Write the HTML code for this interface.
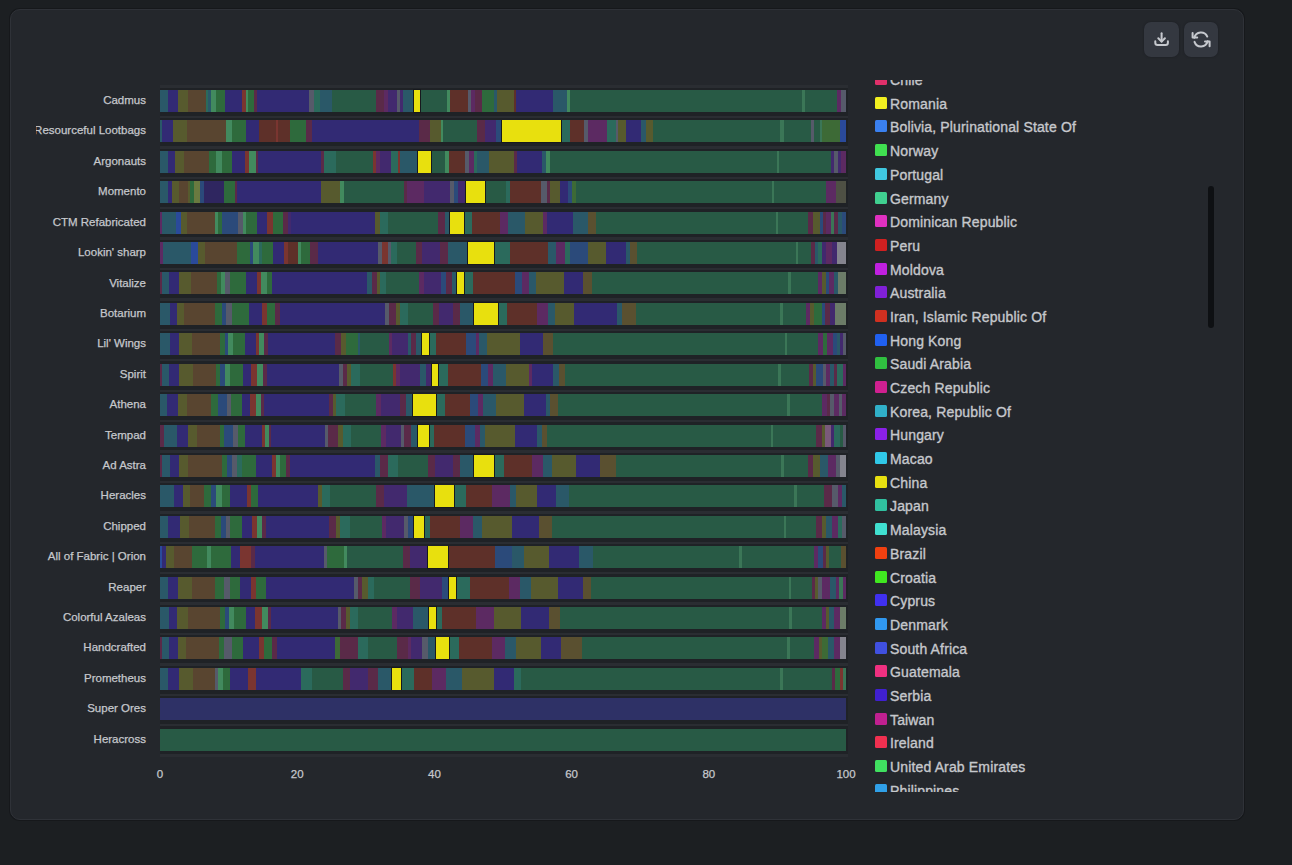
<!DOCTYPE html>
<html><head><meta charset="utf-8">
<style>
html,body{margin:0;padding:0;}
body{width:1292px;height:865px;background:#1c1f22;position:relative;overflow:hidden;font-family:"Liberation Sans",sans-serif;}
.card{position:absolute;box-sizing:border-box;left:10px;top:8.5px;width:1234px;height:811.5px;background:#24272c;border:1.5px solid #2f3238;border-radius:10px;box-shadow:0 0 0 1px #16181b;}
.btn{position:absolute;top:22px;width:35px;height:35px;border-radius:7px;background:#343840;box-shadow:0 0 2px #1a1c20;}
.ylab{position:absolute;right:1146px;font-size:11.5px;color:#c6c8cc;white-space:nowrap;line-height:14px;-webkit-text-stroke:0.25px #c6c8cc;}
.xlab{position:absolute;top:767px;font-size:11.5px;color:#c6c8cc;line-height:14px;width:40px;text-align:center;-webkit-text-stroke:0.25px #c6c8cc;}
.legend{position:absolute;left:870px;top:80px;width:320px;height:712px;overflow:hidden;}
.li{position:absolute;left:5px;height:20px;font-size:14px;letter-spacing:0.15px;color:#c6c8cc;white-space:nowrap;line-height:20px;-webkit-text-stroke:0.35px #c6c8cc;}
.sw{position:absolute;left:0;top:4px;width:12px;height:12px;border-radius:1.5px;}
.lt{position:absolute;left:15px;top:1px;}
.sb{position:absolute;left:1208px;top:186px;width:6px;height:142px;border-radius:3px;background:#0e1013;}
.ylclip{position:absolute;left:36px;top:80px;width:119px;height:680px;overflow:hidden;}
</style></head><body>
<div class="card"></div>

<div class="btn" style="left:1144px"></div>
<div class="btn" style="left:1184px;width:34px"></div>
<svg style="position:absolute;left:0;top:0" width="1292" height="70" viewBox="0 0 1292 70">
<g fill="none" stroke="#c6c9ce" stroke-width="2" stroke-linecap="round" stroke-linejoin="round">
<path d="M1161.6 33.3 V41.5"/><path d="M1158.3 38.3 L1161.6 41.6 L1164.9 38.3"/>
<path d="M1155.3 41.3 V42.8 Q1155.3 45.1 1157.6 45.1 H1165.6 Q1167.9 45.1 1167.9 42.8 V41.3"/>
<path d="M1207.25 36.58 A6.9 6.9 0 0 0 1194.33 37.71"/><path d="M1192.6 32.9 V37.6 H1197.2"/>
<path d="M1194.5 41.86 A6.9 6.9 0 0 0 1207.66 41.29"/><path d="M1209.6 46.3 V41.6 H1205"/>
</g></svg>
<svg style="position:absolute;left:0;top:0" width="1292" height="865" shape-rendering="crispEdges"><g>
<rect x="160.0" y="84.80" width="688.0" height="671.01" fill="#1f2226"/>
<rect x="160.0" y="85.40" width="688.0" height="2.4" fill="#2a2d32"/>
<rect x="160.0" y="115.81" width="688.0" height="2.4" fill="#2a2d32"/>
<rect x="160.0" y="146.22" width="688.0" height="2.4" fill="#2a2d32"/>
<rect x="160.0" y="176.63" width="688.0" height="2.4" fill="#2a2d32"/>
<rect x="160.0" y="207.04" width="688.0" height="2.4" fill="#2a2d32"/>
<rect x="160.0" y="237.45" width="688.0" height="2.4" fill="#2a2d32"/>
<rect x="160.0" y="267.86" width="688.0" height="2.4" fill="#2a2d32"/>
<rect x="160.0" y="298.27" width="688.0" height="2.4" fill="#2a2d32"/>
<rect x="160.0" y="328.68" width="688.0" height="2.4" fill="#2a2d32"/>
<rect x="160.0" y="359.09" width="688.0" height="2.4" fill="#2a2d32"/>
<rect x="160.0" y="389.50" width="688.0" height="2.4" fill="#2a2d32"/>
<rect x="160.0" y="419.91" width="688.0" height="2.4" fill="#2a2d32"/>
<rect x="160.0" y="450.32" width="688.0" height="2.4" fill="#2a2d32"/>
<rect x="160.0" y="480.73" width="688.0" height="2.4" fill="#2a2d32"/>
<rect x="160.0" y="511.14" width="688.0" height="2.4" fill="#2a2d32"/>
<rect x="160.0" y="541.55" width="688.0" height="2.4" fill="#2a2d32"/>
<rect x="160.0" y="571.96" width="688.0" height="2.4" fill="#2a2d32"/>
<rect x="160.0" y="602.37" width="688.0" height="2.4" fill="#2a2d32"/>
<rect x="160.0" y="632.78" width="688.0" height="2.4" fill="#2a2d32"/>
<rect x="160.0" y="663.19" width="688.0" height="2.4" fill="#2a2d32"/>
<rect x="160.0" y="693.60" width="688.0" height="2.4" fill="#2a2d32"/>
<rect x="160.0" y="724.01" width="688.0" height="2.4" fill="#2a2d32"/>
<rect x="160.0" y="754.41" width="688.0" height="2.4" fill="#2a2d32"/>
<rect x="160.0" y="90.00" width="8.0" height="22.0" fill="#2a5868"/>
<rect x="168" y="90.00" width="10" height="22.0" fill="#322a74"/>
<rect x="178" y="90.00" width="10" height="22.0" fill="#575a2e"/>
<rect x="188" y="90.00" width="18" height="22.0" fill="#594530"/>
<rect x="206" y="90.00" width="2" height="22.0" fill="#2b6a5c"/>
<rect x="208" y="90.00" width="3" height="22.0" fill="#2a5868"/>
<rect x="211" y="90.00" width="5" height="22.0" fill="#428a5e"/>
<rect x="216" y="90.00" width="9" height="22.0" fill="#2e6a3c"/>
<rect x="225" y="90.00" width="17" height="22.0" fill="#322a74"/>
<rect x="242" y="90.00" width="4" height="22.0" fill="#7a3530"/>
<rect x="246" y="90.00" width="2" height="22.0" fill="#428a5e"/>
<rect x="248" y="90.00" width="6" height="22.0" fill="#2e6a3c"/>
<rect x="254" y="90.00" width="3" height="22.0" fill="#5a2a48"/>
<rect x="257" y="90.00" width="52" height="22.0" fill="#322a74"/>
<rect x="309" y="90.00" width="5" height="22.0" fill="#565a6a"/>
<rect x="314" y="90.00" width="6" height="22.0" fill="#2b6a5c"/>
<rect x="320" y="90.00" width="12" height="22.0" fill="#2a5868"/>
<rect x="332" y="90.00" width="44" height="22.0" fill="#285a45"/>
<rect x="376" y="90.00" width="8" height="22.0" fill="#5a2a48"/>
<rect x="384" y="90.00" width="4" height="22.0" fill="#5c2a62"/>
<rect x="388" y="90.00" width="9" height="22.0" fill="#42296e"/>
<rect x="397" y="90.00" width="3" height="22.0" fill="#565a6a"/>
<rect x="400" y="90.00" width="3" height="22.0" fill="#42296e"/>
<rect x="403" y="90.00" width="11" height="22.0" fill="#2a5868"/>
<rect x="420" y="90.00" width="27" height="22.0" fill="#285a45"/>
<rect x="447" y="90.00" width="3" height="22.0" fill="#428a5e"/>
<rect x="450" y="90.00" width="18" height="22.0" fill="#5e3029"/>
<rect x="468" y="90.00" width="3" height="22.0" fill="#565a6a"/>
<rect x="471" y="90.00" width="4" height="22.0" fill="#5c2a62"/>
<rect x="475" y="90.00" width="7" height="22.0" fill="#5a2a48"/>
<rect x="482" y="90.00" width="12" height="22.0" fill="#2e6a3c"/>
<rect x="494" y="90.00" width="3" height="22.0" fill="#2a5868"/>
<rect x="497" y="90.00" width="17" height="22.0" fill="#575a2e"/>
<rect x="514" y="90.00" width="2" height="22.0" fill="#5e3029"/>
<rect x="516" y="90.00" width="37" height="22.0" fill="#322a74"/>
<rect x="553" y="90.00" width="14" height="22.0" fill="#2a5868"/>
<rect x="567" y="90.00" width="3" height="22.0" fill="#428a5e"/>
<rect x="570" y="90.00" width="232" height="22.0" fill="#285a45"/>
<rect x="802" y="90.00" width="3" height="22.0" fill="#3b7657"/>
<rect x="805" y="90.00" width="32" height="22.0" fill="#285a45"/>
<rect x="837" y="90.00" width="4" height="22.0" fill="#5c2a62"/>
<rect x="841" y="90.00" width="5" height="22.0" fill="#565a6a"/>
<rect x="160.0" y="120.41" width="2.0" height="22.0" fill="#2a5868"/>
<rect x="162" y="120.41" width="11" height="22.0" fill="#322a74"/>
<rect x="173" y="120.41" width="14" height="22.0" fill="#575a2e"/>
<rect x="187" y="120.41" width="39" height="22.0" fill="#594530"/>
<rect x="226" y="120.41" width="6" height="22.0" fill="#428a5e"/>
<rect x="232" y="120.41" width="14" height="22.0" fill="#2e6a3c"/>
<rect x="246" y="120.41" width="13" height="22.0" fill="#322a74"/>
<rect x="259" y="120.41" width="17" height="22.0" fill="#5e3029"/>
<rect x="276" y="120.41" width="2" height="22.0" fill="#7a3530"/>
<rect x="278" y="120.41" width="12" height="22.0" fill="#5e3029"/>
<rect x="290" y="120.41" width="16" height="22.0" fill="#2e6a3c"/>
<rect x="306" y="120.41" width="6" height="22.0" fill="#5a2a48"/>
<rect x="312" y="120.41" width="107" height="22.0" fill="#322a74"/>
<rect x="419" y="120.41" width="11" height="22.0" fill="#5a2a48"/>
<rect x="430" y="120.41" width="11" height="22.0" fill="#575a2e"/>
<rect x="441" y="120.41" width="2" height="22.0" fill="#428a5e"/>
<rect x="443" y="120.41" width="34" height="22.0" fill="#285a45"/>
<rect x="477" y="120.41" width="8" height="22.0" fill="#5a2a48"/>
<rect x="485" y="120.41" width="11" height="22.0" fill="#42296e"/>
<rect x="496" y="120.41" width="6" height="22.0" fill="#2b4a7a"/>
<rect x="561" y="120.41" width="9" height="22.0" fill="#2b6a5c"/>
<rect x="570" y="120.41" width="14" height="22.0" fill="#5e3029"/>
<rect x="584" y="120.41" width="4" height="22.0" fill="#565a6a"/>
<rect x="588" y="120.41" width="19" height="22.0" fill="#5c2a62"/>
<rect x="607" y="120.41" width="9" height="22.0" fill="#2b6a5c"/>
<rect x="616" y="120.41" width="2" height="22.0" fill="#565a6a"/>
<rect x="618" y="120.41" width="8" height="22.0" fill="#575a2e"/>
<rect x="626" y="120.41" width="15" height="22.0" fill="#322a74"/>
<rect x="641" y="120.41" width="5" height="22.0" fill="#2a5868"/>
<rect x="646" y="120.41" width="7" height="22.0" fill="#575a2e"/>
<rect x="653" y="120.41" width="127" height="22.0" fill="#285a45"/>
<rect x="780" y="120.41" width="4" height="22.0" fill="#3b7657"/>
<rect x="784" y="120.41" width="27" height="22.0" fill="#285a45"/>
<rect x="811" y="120.41" width="3" height="22.0" fill="#565a6a"/>
<rect x="814" y="120.41" width="6" height="22.0" fill="#285a45"/>
<rect x="820" y="120.41" width="2" height="22.0" fill="#3b7657"/>
<rect x="822" y="120.41" width="18" height="22.0" fill="#3d6a36"/>
<rect x="840" y="120.41" width="6" height="22.0" fill="#2a4a9a"/>
<rect x="160.0" y="150.82" width="8.0" height="22.0" fill="#2a5868"/>
<rect x="168" y="150.82" width="7" height="22.0" fill="#322a74"/>
<rect x="175" y="150.82" width="9" height="22.0" fill="#575a2e"/>
<rect x="184" y="150.82" width="25" height="22.0" fill="#594530"/>
<rect x="209" y="150.82" width="7" height="22.0" fill="#2e6a3c"/>
<rect x="216" y="150.82" width="6" height="22.0" fill="#428a5e"/>
<rect x="222" y="150.82" width="10" height="22.0" fill="#2e6a3c"/>
<rect x="232" y="150.82" width="13" height="22.0" fill="#322a74"/>
<rect x="245" y="150.82" width="4" height="22.0" fill="#7a3530"/>
<rect x="249" y="150.82" width="7" height="22.0" fill="#428a5e"/>
<rect x="256" y="150.82" width="2" height="22.0" fill="#5a2a48"/>
<rect x="258" y="150.82" width="63" height="22.0" fill="#322a74"/>
<rect x="321" y="150.82" width="3" height="22.0" fill="#5a2a48"/>
<rect x="324" y="150.82" width="12" height="22.0" fill="#2b6a5c"/>
<rect x="336" y="150.82" width="37" height="22.0" fill="#285a45"/>
<rect x="373" y="150.82" width="3" height="22.0" fill="#7a3530"/>
<rect x="376" y="150.82" width="4" height="22.0" fill="#5c2a62"/>
<rect x="380" y="150.82" width="11" height="22.0" fill="#42296e"/>
<rect x="391" y="150.82" width="7" height="22.0" fill="#2b6a5c"/>
<rect x="398" y="150.82" width="2" height="22.0" fill="#7a3530"/>
<rect x="400" y="150.82" width="18" height="22.0" fill="#2a5868"/>
<rect x="431" y="150.82" width="14" height="22.0" fill="#285a45"/>
<rect x="445" y="150.82" width="4" height="22.0" fill="#428a5e"/>
<rect x="449" y="150.82" width="16" height="22.0" fill="#5e3029"/>
<rect x="465" y="150.82" width="4" height="22.0" fill="#565a6a"/>
<rect x="469" y="150.82" width="5" height="22.0" fill="#5c2a62"/>
<rect x="474" y="150.82" width="3" height="22.0" fill="#2b6a5c"/>
<rect x="477" y="150.82" width="12" height="22.0" fill="#2a5868"/>
<rect x="489" y="150.82" width="25" height="22.0" fill="#575a2e"/>
<rect x="514" y="150.82" width="3" height="22.0" fill="#5a2a48"/>
<rect x="517" y="150.82" width="25" height="22.0" fill="#322a74"/>
<rect x="542" y="150.82" width="4" height="22.0" fill="#2a5868"/>
<rect x="546" y="150.82" width="4" height="22.0" fill="#428a5e"/>
<rect x="550" y="150.82" width="227" height="22.0" fill="#285a45"/>
<rect x="777" y="150.82" width="2" height="22.0" fill="#3b7657"/>
<rect x="779" y="150.82" width="52" height="22.0" fill="#285a45"/>
<rect x="831" y="150.82" width="3" height="22.0" fill="#42296e"/>
<rect x="834" y="150.82" width="4" height="22.0" fill="#565a6a"/>
<rect x="838" y="150.82" width="3" height="22.0" fill="#42296e"/>
<rect x="841" y="150.82" width="5" height="22.0" fill="#5c2a62"/>
<rect x="160.0" y="181.23" width="8.0" height="22.0" fill="#2a5868"/>
<rect x="168" y="181.23" width="4" height="22.0" fill="#322a74"/>
<rect x="172" y="181.23" width="7" height="22.0" fill="#575a2e"/>
<rect x="179" y="181.23" width="9" height="22.0" fill="#594530"/>
<rect x="188" y="181.23" width="2" height="22.0" fill="#575a2e"/>
<rect x="190" y="181.23" width="4" height="22.0" fill="#2e6a3c"/>
<rect x="194" y="181.23" width="6" height="22.0" fill="#6a7a40"/>
<rect x="200" y="181.23" width="4" height="22.0" fill="#2b4a7a"/>
<rect x="204" y="181.23" width="20" height="22.0" fill="#2f2660"/>
<rect x="224" y="181.23" width="11" height="22.0" fill="#2e6a3c"/>
<rect x="235" y="181.23" width="2" height="22.0" fill="#5a2a48"/>
<rect x="237" y="181.23" width="84" height="22.0" fill="#322a74"/>
<rect x="321" y="181.23" width="19" height="22.0" fill="#575a2e"/>
<rect x="340" y="181.23" width="4" height="22.0" fill="#428a5e"/>
<rect x="344" y="181.23" width="60" height="22.0" fill="#285a45"/>
<rect x="404" y="181.23" width="3" height="22.0" fill="#5a2a48"/>
<rect x="407" y="181.23" width="17" height="22.0" fill="#5c2a62"/>
<rect x="424" y="181.23" width="26" height="22.0" fill="#42296e"/>
<rect x="450" y="181.23" width="4" height="22.0" fill="#565a6a"/>
<rect x="454" y="181.23" width="4" height="22.0" fill="#2b4a7a"/>
<rect x="458" y="181.23" width="8" height="22.0" fill="#42296e"/>
<rect x="485" y="181.23" width="21" height="22.0" fill="#285a45"/>
<rect x="506" y="181.23" width="4" height="22.0" fill="#2b6a5c"/>
<rect x="510" y="181.23" width="31" height="22.0" fill="#5e3029"/>
<rect x="541" y="181.23" width="6" height="22.0" fill="#565a6a"/>
<rect x="547" y="181.23" width="3" height="22.0" fill="#5a2a48"/>
<rect x="550" y="181.23" width="10" height="22.0" fill="#575a2e"/>
<rect x="560" y="181.23" width="8" height="22.0" fill="#322a74"/>
<rect x="568" y="181.23" width="4" height="22.0" fill="#2b4a7a"/>
<rect x="572" y="181.23" width="4" height="22.0" fill="#3d6a36"/>
<rect x="576" y="181.23" width="196" height="22.0" fill="#285a45"/>
<rect x="772" y="181.23" width="2" height="22.0" fill="#3b7657"/>
<rect x="774" y="181.23" width="52" height="22.0" fill="#285a45"/>
<rect x="826" y="181.23" width="10" height="22.0" fill="#5c2a62"/>
<rect x="836" y="181.23" width="10" height="22.0" fill="#4e5044"/>
<rect x="160.0" y="211.64" width="2.0" height="22.0" fill="#5c2a62"/>
<rect x="162" y="211.64" width="14" height="22.0" fill="#2a5868"/>
<rect x="176" y="211.64" width="5" height="22.0" fill="#2a4a9a"/>
<rect x="181" y="211.64" width="6" height="22.0" fill="#575a2e"/>
<rect x="187" y="211.64" width="28" height="22.0" fill="#594530"/>
<rect x="215" y="211.64" width="3" height="22.0" fill="#428a5e"/>
<rect x="218" y="211.64" width="4" height="22.0" fill="#2e6a3c"/>
<rect x="222" y="211.64" width="16" height="22.0" fill="#2b4a7a"/>
<rect x="238" y="211.64" width="5" height="22.0" fill="#565a6a"/>
<rect x="243" y="211.64" width="3" height="22.0" fill="#428a5e"/>
<rect x="246" y="211.64" width="11" height="22.0" fill="#2e6a3c"/>
<rect x="257" y="211.64" width="10" height="22.0" fill="#322a74"/>
<rect x="267" y="211.64" width="6" height="22.0" fill="#7a3530"/>
<rect x="273" y="211.64" width="10" height="22.0" fill="#2e6a3c"/>
<rect x="283" y="211.64" width="5" height="22.0" fill="#5a2a48"/>
<rect x="288" y="211.64" width="3" height="22.0" fill="#42296e"/>
<rect x="291" y="211.64" width="84" height="22.0" fill="#322a74"/>
<rect x="375" y="211.64" width="5" height="22.0" fill="#575a2e"/>
<rect x="380" y="211.64" width="8" height="22.0" fill="#2b6a5c"/>
<rect x="388" y="211.64" width="50" height="22.0" fill="#285a45"/>
<rect x="438" y="211.64" width="7" height="22.0" fill="#5a2a48"/>
<rect x="445" y="211.64" width="5" height="22.0" fill="#2a5868"/>
<rect x="464" y="211.64" width="8" height="22.0" fill="#2b6a5c"/>
<rect x="472" y="211.64" width="28" height="22.0" fill="#5e3029"/>
<rect x="500" y="211.64" width="8" height="22.0" fill="#5c2a62"/>
<rect x="508" y="211.64" width="17" height="22.0" fill="#2a5868"/>
<rect x="525" y="211.64" width="18" height="22.0" fill="#575a2e"/>
<rect x="543" y="211.64" width="4" height="22.0" fill="#5c2a62"/>
<rect x="547" y="211.64" width="26" height="22.0" fill="#322a74"/>
<rect x="573" y="211.64" width="15" height="22.0" fill="#2a5868"/>
<rect x="588" y="211.64" width="8" height="22.0" fill="#5a5030"/>
<rect x="596" y="211.64" width="180" height="22.0" fill="#285a45"/>
<rect x="776" y="211.64" width="2" height="22.0" fill="#3b7657"/>
<rect x="778" y="211.64" width="30" height="22.0" fill="#285a45"/>
<rect x="808" y="211.64" width="5" height="22.0" fill="#5a2a48"/>
<rect x="813" y="211.64" width="7" height="22.0" fill="#575a2e"/>
<rect x="820" y="211.64" width="3" height="22.0" fill="#2b4a7a"/>
<rect x="823" y="211.64" width="3" height="22.0" fill="#5a2a48"/>
<rect x="826" y="211.64" width="5" height="22.0" fill="#5c2a62"/>
<rect x="831" y="211.64" width="3" height="22.0" fill="#3b7657"/>
<rect x="834" y="211.64" width="4" height="22.0" fill="#5a2a48"/>
<rect x="838" y="211.64" width="4" height="22.0" fill="#2a5868"/>
<rect x="842" y="211.64" width="4" height="22.0" fill="#2b4a7a"/>
<rect x="160.0" y="242.05" width="3.0" height="22.0" fill="#5c2a62"/>
<rect x="163" y="242.05" width="28" height="22.0" fill="#2a5868"/>
<rect x="191" y="242.05" width="7" height="22.0" fill="#2a4a9a"/>
<rect x="198" y="242.05" width="7" height="22.0" fill="#575a2e"/>
<rect x="205" y="242.05" width="32" height="22.0" fill="#594530"/>
<rect x="237" y="242.05" width="13" height="22.0" fill="#2e6a3c"/>
<rect x="250" y="242.05" width="3" height="22.0" fill="#2b4a7a"/>
<rect x="253" y="242.05" width="6" height="22.0" fill="#428a5e"/>
<rect x="259" y="242.05" width="3" height="22.0" fill="#2b6a5c"/>
<rect x="262" y="242.05" width="11" height="22.0" fill="#2e6a3c"/>
<rect x="273" y="242.05" width="11" height="22.0" fill="#322a74"/>
<rect x="284" y="242.05" width="4" height="22.0" fill="#7a3530"/>
<rect x="288" y="242.05" width="10" height="22.0" fill="#5e3029"/>
<rect x="298" y="242.05" width="3" height="22.0" fill="#428a5e"/>
<rect x="301" y="242.05" width="9" height="22.0" fill="#2e6a3c"/>
<rect x="310" y="242.05" width="8" height="22.0" fill="#5a2a48"/>
<rect x="318" y="242.05" width="60" height="22.0" fill="#322a74"/>
<rect x="378" y="242.05" width="4" height="22.0" fill="#565a6a"/>
<rect x="382" y="242.05" width="6" height="22.0" fill="#7a3530"/>
<rect x="388" y="242.05" width="3" height="22.0" fill="#565a6a"/>
<rect x="391" y="242.05" width="6" height="22.0" fill="#2b6a5c"/>
<rect x="397" y="242.05" width="19" height="22.0" fill="#285a45"/>
<rect x="416" y="242.05" width="6" height="22.0" fill="#5a2a48"/>
<rect x="422" y="242.05" width="18" height="22.0" fill="#42296e"/>
<rect x="440" y="242.05" width="8" height="22.0" fill="#5a2a48"/>
<rect x="448" y="242.05" width="20" height="22.0" fill="#2a5868"/>
<rect x="494" y="242.05" width="16" height="22.0" fill="#2b6a5c"/>
<rect x="510" y="242.05" width="38" height="22.0" fill="#5e3029"/>
<rect x="548" y="242.05" width="8" height="22.0" fill="#2a5868"/>
<rect x="556" y="242.05" width="9" height="22.0" fill="#5c2a62"/>
<rect x="565" y="242.05" width="5" height="22.0" fill="#2b6a5c"/>
<rect x="570" y="242.05" width="18" height="22.0" fill="#2b4a7a"/>
<rect x="588" y="242.05" width="18" height="22.0" fill="#575a2e"/>
<rect x="606" y="242.05" width="20" height="22.0" fill="#322a74"/>
<rect x="626" y="242.05" width="4" height="22.0" fill="#2a5868"/>
<rect x="630" y="242.05" width="7" height="22.0" fill="#5a5030"/>
<rect x="637" y="242.05" width="159" height="22.0" fill="#285a45"/>
<rect x="796" y="242.05" width="2" height="22.0" fill="#3b7657"/>
<rect x="798" y="242.05" width="13" height="22.0" fill="#285a45"/>
<rect x="811" y="242.05" width="4" height="22.0" fill="#5a2a48"/>
<rect x="815" y="242.05" width="3" height="22.0" fill="#2a5868"/>
<rect x="818" y="242.05" width="4" height="22.0" fill="#2b6a5c"/>
<rect x="822" y="242.05" width="4" height="22.0" fill="#42296e"/>
<rect x="826" y="242.05" width="6" height="22.0" fill="#5c2a62"/>
<rect x="832" y="242.05" width="5" height="22.0" fill="#42296e"/>
<rect x="837" y="242.05" width="9" height="22.0" fill="#84848e"/>
<rect x="160.0" y="272.46" width="2.0" height="22.0" fill="#5a2a48"/>
<rect x="162" y="272.46" width="7" height="22.0" fill="#2a5868"/>
<rect x="169" y="272.46" width="10" height="22.0" fill="#322a74"/>
<rect x="179" y="272.46" width="12" height="22.0" fill="#575a2e"/>
<rect x="191" y="272.46" width="26" height="22.0" fill="#594530"/>
<rect x="217" y="272.46" width="4" height="22.0" fill="#2e6a3c"/>
<rect x="221" y="272.46" width="4" height="22.0" fill="#428a5e"/>
<rect x="225" y="272.46" width="5" height="22.0" fill="#565a6a"/>
<rect x="230" y="272.46" width="16" height="22.0" fill="#2e6a3c"/>
<rect x="246" y="272.46" width="11" height="22.0" fill="#322a74"/>
<rect x="257" y="272.46" width="4" height="22.0" fill="#7a3530"/>
<rect x="261" y="272.46" width="6" height="22.0" fill="#428a5e"/>
<rect x="267" y="272.46" width="5" height="22.0" fill="#2e6a3c"/>
<rect x="272" y="272.46" width="95" height="22.0" fill="#322a74"/>
<rect x="367" y="272.46" width="5" height="22.0" fill="#2a5868"/>
<rect x="372" y="272.46" width="5" height="22.0" fill="#5a2a48"/>
<rect x="377" y="272.46" width="3" height="22.0" fill="#575a2e"/>
<rect x="380" y="272.46" width="6" height="22.0" fill="#2b6a5c"/>
<rect x="386" y="272.46" width="33" height="22.0" fill="#285a45"/>
<rect x="419" y="272.46" width="5" height="22.0" fill="#5c2a62"/>
<rect x="424" y="272.46" width="17" height="22.0" fill="#42296e"/>
<rect x="441" y="272.46" width="5" height="22.0" fill="#2b4a7a"/>
<rect x="446" y="272.46" width="6" height="22.0" fill="#5a2a48"/>
<rect x="452" y="272.46" width="5" height="22.0" fill="#2a5868"/>
<rect x="464" y="272.46" width="9" height="22.0" fill="#2b6a5c"/>
<rect x="473" y="272.46" width="42" height="22.0" fill="#5e3029"/>
<rect x="515" y="272.46" width="7" height="22.0" fill="#2b4a7a"/>
<rect x="522" y="272.46" width="7" height="22.0" fill="#5c2a62"/>
<rect x="529" y="272.46" width="7" height="22.0" fill="#2a5868"/>
<rect x="536" y="272.46" width="28" height="22.0" fill="#575a2e"/>
<rect x="564" y="272.46" width="19" height="22.0" fill="#322a74"/>
<rect x="583" y="272.46" width="9" height="22.0" fill="#5a5030"/>
<rect x="592" y="272.46" width="196" height="22.0" fill="#285a45"/>
<rect x="788" y="272.46" width="3" height="22.0" fill="#3b7657"/>
<rect x="791" y="272.46" width="27" height="22.0" fill="#285a45"/>
<rect x="818" y="272.46" width="4" height="22.0" fill="#5c2a62"/>
<rect x="822" y="272.46" width="4" height="22.0" fill="#575a2e"/>
<rect x="826" y="272.46" width="3" height="22.0" fill="#2b4a7a"/>
<rect x="829" y="272.46" width="5" height="22.0" fill="#5c2a62"/>
<rect x="834" y="272.46" width="4" height="22.0" fill="#2a5868"/>
<rect x="838" y="272.46" width="8" height="22.0" fill="#6c7c68"/>
<rect x="160.0" y="302.87" width="10.0" height="22.0" fill="#2a5868"/>
<rect x="170" y="302.87" width="7" height="22.0" fill="#322a74"/>
<rect x="177" y="302.87" width="7" height="22.0" fill="#575a2e"/>
<rect x="184" y="302.87" width="31" height="22.0" fill="#594530"/>
<rect x="215" y="302.87" width="7" height="22.0" fill="#2e6a3c"/>
<rect x="222" y="302.87" width="4" height="22.0" fill="#2b4a7a"/>
<rect x="226" y="302.87" width="6" height="22.0" fill="#565a6a"/>
<rect x="232" y="302.87" width="17" height="22.0" fill="#2e6a3c"/>
<rect x="249" y="302.87" width="13" height="22.0" fill="#322a74"/>
<rect x="262" y="302.87" width="5" height="22.0" fill="#7a3530"/>
<rect x="267" y="302.87" width="8" height="22.0" fill="#2e6a3c"/>
<rect x="275" y="302.87" width="5" height="22.0" fill="#5a2a48"/>
<rect x="280" y="302.87" width="105" height="22.0" fill="#322a74"/>
<rect x="385" y="302.87" width="4" height="22.0" fill="#565a6a"/>
<rect x="389" y="302.87" width="7" height="22.0" fill="#5a2a48"/>
<rect x="396" y="302.87" width="4" height="22.0" fill="#575a2e"/>
<rect x="400" y="302.87" width="8" height="22.0" fill="#2b6a5c"/>
<rect x="408" y="302.87" width="25" height="22.0" fill="#285a45"/>
<rect x="433" y="302.87" width="6" height="22.0" fill="#5a2a48"/>
<rect x="439" y="302.87" width="14" height="22.0" fill="#42296e"/>
<rect x="453" y="302.87" width="7" height="22.0" fill="#5a2a48"/>
<rect x="460" y="302.87" width="14" height="22.0" fill="#2a5868"/>
<rect x="498" y="302.87" width="9" height="22.0" fill="#2b6a5c"/>
<rect x="507" y="302.87" width="30" height="22.0" fill="#5e3029"/>
<rect x="537" y="302.87" width="11" height="22.0" fill="#5c2a62"/>
<rect x="548" y="302.87" width="7" height="22.0" fill="#2a5868"/>
<rect x="555" y="302.87" width="19" height="22.0" fill="#575a2e"/>
<rect x="574" y="302.87" width="43" height="22.0" fill="#322a74"/>
<rect x="617" y="302.87" width="5" height="22.0" fill="#2a5868"/>
<rect x="622" y="302.87" width="14" height="22.0" fill="#5a5030"/>
<rect x="636" y="302.87" width="144" height="22.0" fill="#285a45"/>
<rect x="780" y="302.87" width="3" height="22.0" fill="#3b7657"/>
<rect x="783" y="302.87" width="23" height="22.0" fill="#285a45"/>
<rect x="806" y="302.87" width="4" height="22.0" fill="#5c2a62"/>
<rect x="810" y="302.87" width="4" height="22.0" fill="#575a2e"/>
<rect x="814" y="302.87" width="8" height="22.0" fill="#2e6a3c"/>
<rect x="822" y="302.87" width="3" height="22.0" fill="#2b4a7a"/>
<rect x="825" y="302.87" width="5" height="22.0" fill="#5a2a48"/>
<rect x="830" y="302.87" width="5" height="22.0" fill="#42296e"/>
<rect x="835" y="302.87" width="11" height="22.0" fill="#6c7c68"/>
<rect x="160.0" y="333.28" width="10.0" height="22.0" fill="#2a5868"/>
<rect x="170" y="333.28" width="9" height="22.0" fill="#322a74"/>
<rect x="179" y="333.28" width="13" height="22.0" fill="#575a2e"/>
<rect x="192" y="333.28" width="28" height="22.0" fill="#594530"/>
<rect x="220" y="333.28" width="5" height="22.0" fill="#2e6a3c"/>
<rect x="225" y="333.28" width="3" height="22.0" fill="#2b4a7a"/>
<rect x="228" y="333.28" width="5" height="22.0" fill="#428a5e"/>
<rect x="233" y="333.28" width="12" height="22.0" fill="#2e6a3c"/>
<rect x="245" y="333.28" width="11" height="22.0" fill="#322a74"/>
<rect x="256" y="333.28" width="3" height="22.0" fill="#7a3530"/>
<rect x="259" y="333.28" width="5" height="22.0" fill="#428a5e"/>
<rect x="264" y="333.28" width="4" height="22.0" fill="#5a2a48"/>
<rect x="268" y="333.28" width="67" height="22.0" fill="#322a74"/>
<rect x="335" y="333.28" width="6" height="22.0" fill="#5a2a48"/>
<rect x="341" y="333.28" width="5" height="22.0" fill="#575a2e"/>
<rect x="346" y="333.28" width="12" height="22.0" fill="#2e6a3c"/>
<rect x="358" y="333.28" width="2" height="22.0" fill="#2a5868"/>
<rect x="360" y="333.28" width="29" height="22.0" fill="#285a45"/>
<rect x="389" y="333.28" width="3" height="22.0" fill="#5c2a62"/>
<rect x="392" y="333.28" width="16" height="22.0" fill="#42296e"/>
<rect x="408" y="333.28" width="3" height="22.0" fill="#2a5868"/>
<rect x="411" y="333.28" width="5" height="22.0" fill="#5a2a48"/>
<rect x="416" y="333.28" width="6" height="22.0" fill="#2a5868"/>
<rect x="429" y="333.28" width="7" height="22.0" fill="#2b6a5c"/>
<rect x="436" y="333.28" width="30" height="22.0" fill="#5e3029"/>
<rect x="466" y="333.28" width="10" height="22.0" fill="#2b4a7a"/>
<rect x="476" y="333.28" width="3" height="22.0" fill="#5c2a62"/>
<rect x="479" y="333.28" width="8" height="22.0" fill="#2a5868"/>
<rect x="487" y="333.28" width="33" height="22.0" fill="#575a2e"/>
<rect x="520" y="333.28" width="23" height="22.0" fill="#322a74"/>
<rect x="543" y="333.28" width="10" height="22.0" fill="#5a5030"/>
<rect x="553" y="333.28" width="232" height="22.0" fill="#285a45"/>
<rect x="785" y="333.28" width="2" height="22.0" fill="#3b7657"/>
<rect x="787" y="333.28" width="31" height="22.0" fill="#285a45"/>
<rect x="818" y="333.28" width="5" height="22.0" fill="#5c2a62"/>
<rect x="823" y="333.28" width="4" height="22.0" fill="#2e6a3c"/>
<rect x="827" y="333.28" width="6" height="22.0" fill="#5c2a62"/>
<rect x="833" y="333.28" width="4" height="22.0" fill="#2b4a7a"/>
<rect x="837" y="333.28" width="3" height="22.0" fill="#2a5868"/>
<rect x="840" y="333.28" width="3" height="22.0" fill="#42296e"/>
<rect x="843" y="333.28" width="3" height="22.0" fill="#565a6a"/>
<rect x="160.0" y="363.69" width="2.0" height="22.0" fill="#5a2a48"/>
<rect x="162" y="363.69" width="7" height="22.0" fill="#2a5868"/>
<rect x="169" y="363.69" width="10" height="22.0" fill="#322a74"/>
<rect x="179" y="363.69" width="14" height="22.0" fill="#575a2e"/>
<rect x="193" y="363.69" width="23" height="22.0" fill="#594530"/>
<rect x="216" y="363.69" width="4" height="22.0" fill="#2e6a3c"/>
<rect x="220" y="363.69" width="5" height="22.0" fill="#2b4a7a"/>
<rect x="225" y="363.69" width="5" height="22.0" fill="#428a5e"/>
<rect x="230" y="363.69" width="13" height="22.0" fill="#2e6a3c"/>
<rect x="243" y="363.69" width="8" height="22.0" fill="#322a74"/>
<rect x="251" y="363.69" width="6" height="22.0" fill="#7a3530"/>
<rect x="257" y="363.69" width="6" height="22.0" fill="#428a5e"/>
<rect x="263" y="363.69" width="4" height="22.0" fill="#5a2a48"/>
<rect x="267" y="363.69" width="72" height="22.0" fill="#322a74"/>
<rect x="339" y="363.69" width="4" height="22.0" fill="#565a6a"/>
<rect x="343" y="363.69" width="4" height="22.0" fill="#5a2a48"/>
<rect x="347" y="363.69" width="4" height="22.0" fill="#575a2e"/>
<rect x="351" y="363.69" width="9" height="22.0" fill="#2b6a5c"/>
<rect x="360" y="363.69" width="33" height="22.0" fill="#285a45"/>
<rect x="393" y="363.69" width="3" height="22.0" fill="#7a3530"/>
<rect x="396" y="363.69" width="4" height="22.0" fill="#5c2a62"/>
<rect x="400" y="363.69" width="20" height="22.0" fill="#42296e"/>
<rect x="420" y="363.69" width="6" height="22.0" fill="#2a5868"/>
<rect x="426" y="363.69" width="6" height="22.0" fill="#42296e"/>
<rect x="438" y="363.69" width="10" height="22.0" fill="#2b6a5c"/>
<rect x="448" y="363.69" width="33" height="22.0" fill="#5e3029"/>
<rect x="481" y="363.69" width="7" height="22.0" fill="#2b4a7a"/>
<rect x="488" y="363.69" width="5" height="22.0" fill="#5c2a62"/>
<rect x="493" y="363.69" width="13" height="22.0" fill="#2a5868"/>
<rect x="506" y="363.69" width="23" height="22.0" fill="#575a2e"/>
<rect x="529" y="363.69" width="3" height="22.0" fill="#5c2a62"/>
<rect x="532" y="363.69" width="21" height="22.0" fill="#322a74"/>
<rect x="553" y="363.69" width="6" height="22.0" fill="#2a5868"/>
<rect x="559" y="363.69" width="6" height="22.0" fill="#5a5030"/>
<rect x="565" y="363.69" width="213" height="22.0" fill="#285a45"/>
<rect x="778" y="363.69" width="3" height="22.0" fill="#3b7657"/>
<rect x="781" y="363.69" width="28" height="22.0" fill="#285a45"/>
<rect x="809" y="363.69" width="4" height="22.0" fill="#5a2a48"/>
<rect x="813" y="363.69" width="3" height="22.0" fill="#575a2e"/>
<rect x="816" y="363.69" width="7" height="22.0" fill="#2b4a7a"/>
<rect x="823" y="363.69" width="3" height="22.0" fill="#565a6a"/>
<rect x="826" y="363.69" width="4" height="22.0" fill="#5c2a62"/>
<rect x="830" y="363.69" width="4" height="22.0" fill="#2a5868"/>
<rect x="834" y="363.69" width="3" height="22.0" fill="#5a2a48"/>
<rect x="837" y="363.69" width="6" height="22.0" fill="#2b6a5c"/>
<rect x="843" y="363.69" width="3" height="22.0" fill="#5c2a62"/>
<rect x="160.0" y="394.10" width="7.0" height="22.0" fill="#2a5868"/>
<rect x="167" y="394.10" width="11" height="22.0" fill="#322a74"/>
<rect x="178" y="394.10" width="9" height="22.0" fill="#575a2e"/>
<rect x="187" y="394.10" width="24" height="22.0" fill="#594530"/>
<rect x="211" y="394.10" width="7" height="22.0" fill="#2e6a3c"/>
<rect x="218" y="394.10" width="9" height="22.0" fill="#2b4a7a"/>
<rect x="227" y="394.10" width="4" height="22.0" fill="#565a6a"/>
<rect x="231" y="394.10" width="11" height="22.0" fill="#2e6a3c"/>
<rect x="242" y="394.10" width="8" height="22.0" fill="#322a74"/>
<rect x="250" y="394.10" width="6" height="22.0" fill="#7a3530"/>
<rect x="256" y="394.10" width="5" height="22.0" fill="#428a5e"/>
<rect x="261" y="394.10" width="3" height="22.0" fill="#5a2a48"/>
<rect x="264" y="394.10" width="65" height="22.0" fill="#322a74"/>
<rect x="329" y="394.10" width="4" height="22.0" fill="#5a2a48"/>
<rect x="333" y="394.10" width="3" height="22.0" fill="#575a2e"/>
<rect x="336" y="394.10" width="9" height="22.0" fill="#2b6a5c"/>
<rect x="345" y="394.10" width="31" height="22.0" fill="#285a45"/>
<rect x="376" y="394.10" width="5" height="22.0" fill="#5c2a62"/>
<rect x="381" y="394.10" width="19" height="22.0" fill="#42296e"/>
<rect x="400" y="394.10" width="6" height="22.0" fill="#5a2a48"/>
<rect x="406" y="394.10" width="7" height="22.0" fill="#2a5868"/>
<rect x="436" y="394.10" width="9" height="22.0" fill="#2b6a5c"/>
<rect x="445" y="394.10" width="25" height="22.0" fill="#5e3029"/>
<rect x="470" y="394.10" width="8" height="22.0" fill="#2b4a7a"/>
<rect x="478" y="394.10" width="5" height="22.0" fill="#5c2a62"/>
<rect x="483" y="394.10" width="13" height="22.0" fill="#2a5868"/>
<rect x="496" y="394.10" width="28" height="22.0" fill="#575a2e"/>
<rect x="524" y="394.10" width="22" height="22.0" fill="#322a74"/>
<rect x="546" y="394.10" width="4" height="22.0" fill="#2a5868"/>
<rect x="550" y="394.10" width="8" height="22.0" fill="#5a5030"/>
<rect x="558" y="394.10" width="229" height="22.0" fill="#285a45"/>
<rect x="787" y="394.10" width="3" height="22.0" fill="#3b7657"/>
<rect x="790" y="394.10" width="32" height="22.0" fill="#285a45"/>
<rect x="822" y="394.10" width="5" height="22.0" fill="#5c2a62"/>
<rect x="827" y="394.10" width="3" height="22.0" fill="#5a2a48"/>
<rect x="830" y="394.10" width="4" height="22.0" fill="#565a6a"/>
<rect x="834" y="394.10" width="5" height="22.0" fill="#5c2a62"/>
<rect x="839" y="394.10" width="3" height="22.0" fill="#565a6a"/>
<rect x="842" y="394.10" width="4" height="22.0" fill="#5c2a62"/>
<rect x="160.0" y="424.51" width="4.0" height="22.0" fill="#5a2a48"/>
<rect x="164" y="424.51" width="13" height="22.0" fill="#2a5868"/>
<rect x="177" y="424.51" width="11" height="22.0" fill="#322a74"/>
<rect x="188" y="424.51" width="9" height="22.0" fill="#575a2e"/>
<rect x="197" y="424.51" width="23" height="22.0" fill="#594530"/>
<rect x="220" y="424.51" width="4" height="22.0" fill="#2e6a3c"/>
<rect x="224" y="424.51" width="9" height="22.0" fill="#2b4a7a"/>
<rect x="233" y="424.51" width="5" height="22.0" fill="#565a6a"/>
<rect x="238" y="424.51" width="7" height="22.0" fill="#2e6a3c"/>
<rect x="245" y="424.51" width="17" height="22.0" fill="#322a74"/>
<rect x="262" y="424.51" width="3" height="22.0" fill="#7a3530"/>
<rect x="265" y="424.51" width="4" height="22.0" fill="#428a5e"/>
<rect x="269" y="424.51" width="2" height="22.0" fill="#5a2a48"/>
<rect x="271" y="424.51" width="54" height="22.0" fill="#322a74"/>
<rect x="325" y="424.51" width="3" height="22.0" fill="#565a6a"/>
<rect x="328" y="424.51" width="10" height="22.0" fill="#5a2a48"/>
<rect x="338" y="424.51" width="5" height="22.0" fill="#575a2e"/>
<rect x="343" y="424.51" width="8" height="22.0" fill="#2b6a5c"/>
<rect x="351" y="424.51" width="30" height="22.0" fill="#285a45"/>
<rect x="381" y="424.51" width="5" height="22.0" fill="#5c2a62"/>
<rect x="386" y="424.51" width="15" height="22.0" fill="#42296e"/>
<rect x="401" y="424.51" width="3" height="22.0" fill="#565a6a"/>
<rect x="404" y="424.51" width="7" height="22.0" fill="#5a2a48"/>
<rect x="411" y="424.51" width="7" height="22.0" fill="#2a5868"/>
<rect x="429" y="424.51" width="5" height="22.0" fill="#2b6a5c"/>
<rect x="434" y="424.51" width="31" height="22.0" fill="#5e3029"/>
<rect x="465" y="424.51" width="10" height="22.0" fill="#2b4a7a"/>
<rect x="475" y="424.51" width="5" height="22.0" fill="#5c2a62"/>
<rect x="480" y="424.51" width="5" height="22.0" fill="#2a5868"/>
<rect x="485" y="424.51" width="30" height="22.0" fill="#575a2e"/>
<rect x="515" y="424.51" width="22" height="22.0" fill="#322a74"/>
<rect x="537" y="424.51" width="5" height="22.0" fill="#2a5868"/>
<rect x="542" y="424.51" width="5" height="22.0" fill="#5a5030"/>
<rect x="547" y="424.51" width="224" height="22.0" fill="#285a45"/>
<rect x="771" y="424.51" width="2" height="22.0" fill="#3b7657"/>
<rect x="773" y="424.51" width="43" height="22.0" fill="#285a45"/>
<rect x="816" y="424.51" width="6" height="22.0" fill="#5a2a48"/>
<rect x="822" y="424.51" width="3" height="22.0" fill="#575a2e"/>
<rect x="825" y="424.51" width="6" height="22.0" fill="#7a5a7a"/>
<rect x="831" y="424.51" width="3" height="22.0" fill="#42296e"/>
<rect x="834" y="424.51" width="6" height="22.0" fill="#2b6a5c"/>
<rect x="840" y="424.51" width="3" height="22.0" fill="#285a45"/>
<rect x="843" y="424.51" width="3" height="22.0" fill="#565a6a"/>
<rect x="160.0" y="454.92" width="2.0" height="22.0" fill="#5a2a48"/>
<rect x="162" y="454.92" width="8" height="22.0" fill="#2a5868"/>
<rect x="170" y="454.92" width="9" height="22.0" fill="#322a74"/>
<rect x="179" y="454.92" width="9" height="22.0" fill="#575a2e"/>
<rect x="188" y="454.92" width="34" height="22.0" fill="#594530"/>
<rect x="222" y="454.92" width="5" height="22.0" fill="#2e6a3c"/>
<rect x="227" y="454.92" width="5" height="22.0" fill="#2b4a7a"/>
<rect x="232" y="454.92" width="5" height="22.0" fill="#565a6a"/>
<rect x="237" y="454.92" width="5" height="22.0" fill="#2b6a5c"/>
<rect x="242" y="454.92" width="14" height="22.0" fill="#2e6a3c"/>
<rect x="256" y="454.92" width="16" height="22.0" fill="#322a74"/>
<rect x="272" y="454.92" width="4" height="22.0" fill="#7a3530"/>
<rect x="276" y="454.92" width="4" height="22.0" fill="#428a5e"/>
<rect x="280" y="454.92" width="6" height="22.0" fill="#2e6a3c"/>
<rect x="286" y="454.92" width="4" height="22.0" fill="#5a2a48"/>
<rect x="290" y="454.92" width="85" height="22.0" fill="#322a74"/>
<rect x="375" y="454.92" width="5" height="22.0" fill="#2a5868"/>
<rect x="380" y="454.92" width="8" height="22.0" fill="#5a2a48"/>
<rect x="388" y="454.92" width="10" height="22.0" fill="#2b6a5c"/>
<rect x="398" y="454.92" width="30" height="22.0" fill="#285a45"/>
<rect x="428" y="454.92" width="7" height="22.0" fill="#5a2a48"/>
<rect x="435" y="454.92" width="18" height="22.0" fill="#42296e"/>
<rect x="453" y="454.92" width="7" height="22.0" fill="#5a2a48"/>
<rect x="460" y="454.92" width="14" height="22.0" fill="#2a5868"/>
<rect x="494" y="454.92" width="10" height="22.0" fill="#2b6a5c"/>
<rect x="504" y="454.92" width="28" height="22.0" fill="#5e3029"/>
<rect x="532" y="454.92" width="11" height="22.0" fill="#5c2a62"/>
<rect x="543" y="454.92" width="9" height="22.0" fill="#2a5868"/>
<rect x="552" y="454.92" width="24" height="22.0" fill="#575a2e"/>
<rect x="576" y="454.92" width="24" height="22.0" fill="#322a74"/>
<rect x="600" y="454.92" width="16" height="22.0" fill="#5a5030"/>
<rect x="616" y="454.92" width="165" height="22.0" fill="#285a45"/>
<rect x="781" y="454.92" width="3" height="22.0" fill="#3b7657"/>
<rect x="784" y="454.92" width="24" height="22.0" fill="#285a45"/>
<rect x="808" y="454.92" width="5" height="22.0" fill="#5a2a48"/>
<rect x="813" y="454.92" width="7" height="22.0" fill="#575a2e"/>
<rect x="820" y="454.92" width="8" height="22.0" fill="#2a5868"/>
<rect x="828" y="454.92" width="8" height="22.0" fill="#5c2a62"/>
<rect x="836" y="454.92" width="4" height="22.0" fill="#565a6a"/>
<rect x="840" y="454.92" width="6" height="22.0" fill="#84848e"/>
<rect x="160.0" y="485.33" width="14.0" height="22.0" fill="#2a5868"/>
<rect x="174" y="485.33" width="9" height="22.0" fill="#322a74"/>
<rect x="183" y="485.33" width="7" height="22.0" fill="#575a2e"/>
<rect x="190" y="485.33" width="14" height="22.0" fill="#594530"/>
<rect x="204" y="485.33" width="7" height="22.0" fill="#2e6a3c"/>
<rect x="211" y="485.33" width="5" height="22.0" fill="#2b4a7a"/>
<rect x="216" y="485.33" width="6" height="22.0" fill="#428a5e"/>
<rect x="222" y="485.33" width="8" height="22.0" fill="#2e6a3c"/>
<rect x="230" y="485.33" width="17" height="22.0" fill="#322a74"/>
<rect x="247" y="485.33" width="4" height="22.0" fill="#7a3530"/>
<rect x="251" y="485.33" width="7" height="22.0" fill="#2e6a3c"/>
<rect x="258" y="485.33" width="60" height="22.0" fill="#322a74"/>
<rect x="318" y="485.33" width="4" height="22.0" fill="#575a2e"/>
<rect x="322" y="485.33" width="8" height="22.0" fill="#2b6a5c"/>
<rect x="330" y="485.33" width="46" height="22.0" fill="#285a45"/>
<rect x="376" y="485.33" width="8" height="22.0" fill="#5a2a48"/>
<rect x="384" y="485.33" width="23" height="22.0" fill="#42296e"/>
<rect x="407" y="485.33" width="28" height="22.0" fill="#2a5868"/>
<rect x="454" y="485.33" width="12" height="22.0" fill="#2b6a5c"/>
<rect x="466" y="485.33" width="26" height="22.0" fill="#5e3029"/>
<rect x="492" y="485.33" width="18" height="22.0" fill="#5c2a62"/>
<rect x="510" y="485.33" width="6" height="22.0" fill="#2a5868"/>
<rect x="516" y="485.33" width="21" height="22.0" fill="#575a2e"/>
<rect x="537" y="485.33" width="19" height="22.0" fill="#322a74"/>
<rect x="556" y="485.33" width="13" height="22.0" fill="#2a5868"/>
<rect x="569" y="485.33" width="225" height="22.0" fill="#285a45"/>
<rect x="794" y="485.33" width="3" height="22.0" fill="#3b7657"/>
<rect x="797" y="485.33" width="27" height="22.0" fill="#285a45"/>
<rect x="824" y="485.33" width="8" height="22.0" fill="#5a2a48"/>
<rect x="832" y="485.33" width="6" height="22.0" fill="#565a6a"/>
<rect x="838" y="485.33" width="4" height="22.0" fill="#5c2a62"/>
<rect x="842" y="485.33" width="4" height="22.0" fill="#2a5868"/>
<rect x="160.0" y="515.74" width="8.0" height="22.0" fill="#2a5868"/>
<rect x="168" y="515.74" width="12" height="22.0" fill="#322a74"/>
<rect x="180" y="515.74" width="9" height="22.0" fill="#575a2e"/>
<rect x="189" y="515.74" width="26" height="22.0" fill="#594530"/>
<rect x="215" y="515.74" width="6" height="22.0" fill="#2e6a3c"/>
<rect x="221" y="515.74" width="5" height="22.0" fill="#2b4a7a"/>
<rect x="226" y="515.74" width="4" height="22.0" fill="#565a6a"/>
<rect x="230" y="515.74" width="12" height="22.0" fill="#2e6a3c"/>
<rect x="242" y="515.74" width="10" height="22.0" fill="#322a74"/>
<rect x="252" y="515.74" width="5" height="22.0" fill="#7a3530"/>
<rect x="257" y="515.74" width="5" height="22.0" fill="#428a5e"/>
<rect x="262" y="515.74" width="4" height="22.0" fill="#5a2a48"/>
<rect x="266" y="515.74" width="63" height="22.0" fill="#322a74"/>
<rect x="329" y="515.74" width="7" height="22.0" fill="#5a2a48"/>
<rect x="336" y="515.74" width="4" height="22.0" fill="#575a2e"/>
<rect x="340" y="515.74" width="10" height="22.0" fill="#2b6a5c"/>
<rect x="350" y="515.74" width="32" height="22.0" fill="#285a45"/>
<rect x="382" y="515.74" width="4" height="22.0" fill="#5c2a62"/>
<rect x="386" y="515.74" width="18" height="22.0" fill="#42296e"/>
<rect x="404" y="515.74" width="4" height="22.0" fill="#565a6a"/>
<rect x="408" y="515.74" width="6" height="22.0" fill="#2b4a7a"/>
<rect x="424" y="515.74" width="6" height="22.0" fill="#2b6a5c"/>
<rect x="430" y="515.74" width="30" height="22.0" fill="#5e3029"/>
<rect x="460" y="515.74" width="13" height="22.0" fill="#5c2a62"/>
<rect x="473" y="515.74" width="9" height="22.0" fill="#2a5868"/>
<rect x="482" y="515.74" width="30" height="22.0" fill="#575a2e"/>
<rect x="512" y="515.74" width="27" height="22.0" fill="#322a74"/>
<rect x="539" y="515.74" width="13" height="22.0" fill="#5a5030"/>
<rect x="552" y="515.74" width="232" height="22.0" fill="#285a45"/>
<rect x="784" y="515.74" width="2" height="22.0" fill="#3b7657"/>
<rect x="786" y="515.74" width="30" height="22.0" fill="#285a45"/>
<rect x="816" y="515.74" width="6" height="22.0" fill="#5a2a48"/>
<rect x="822" y="515.74" width="4" height="22.0" fill="#575a2e"/>
<rect x="826" y="515.74" width="6" height="22.0" fill="#2a5868"/>
<rect x="832" y="515.74" width="6" height="22.0" fill="#5c2a62"/>
<rect x="838" y="515.74" width="4" height="22.0" fill="#2b6a5c"/>
<rect x="842" y="515.74" width="4" height="22.0" fill="#565a6a"/>
<rect x="160.0" y="546.15" width="2.0" height="22.0" fill="#2a4a9a"/>
<rect x="162" y="546.15" width="4" height="22.0" fill="#322a74"/>
<rect x="166" y="546.15" width="8" height="22.0" fill="#575a2e"/>
<rect x="174" y="546.15" width="18" height="22.0" fill="#594530"/>
<rect x="192" y="546.15" width="15" height="22.0" fill="#2e6a3c"/>
<rect x="207" y="546.15" width="4" height="22.0" fill="#428a5e"/>
<rect x="211" y="546.15" width="20" height="22.0" fill="#2e6a3c"/>
<rect x="231" y="546.15" width="9" height="22.0" fill="#322a74"/>
<rect x="240" y="546.15" width="11" height="22.0" fill="#7a3530"/>
<rect x="251" y="546.15" width="4" height="22.0" fill="#5a2a48"/>
<rect x="255" y="546.15" width="69" height="22.0" fill="#322a74"/>
<rect x="324" y="546.15" width="3" height="22.0" fill="#565a6a"/>
<rect x="327" y="546.15" width="17" height="22.0" fill="#2e6a3c"/>
<rect x="344" y="546.15" width="3" height="22.0" fill="#428a5e"/>
<rect x="347" y="546.15" width="56" height="22.0" fill="#285a45"/>
<rect x="403" y="546.15" width="7" height="22.0" fill="#5a2a48"/>
<rect x="410" y="546.15" width="18" height="22.0" fill="#42296e"/>
<rect x="448" y="546.15" width="47" height="22.0" fill="#5e3029"/>
<rect x="495" y="546.15" width="17" height="22.0" fill="#2b4a7a"/>
<rect x="512" y="546.15" width="12" height="22.0" fill="#2a5868"/>
<rect x="524" y="546.15" width="25" height="22.0" fill="#575a2e"/>
<rect x="549" y="546.15" width="30" height="22.0" fill="#322a74"/>
<rect x="579" y="546.15" width="14" height="22.0" fill="#2a5868"/>
<rect x="593" y="546.15" width="146" height="22.0" fill="#285a45"/>
<rect x="739" y="546.15" width="3" height="22.0" fill="#3b7657"/>
<rect x="742" y="546.15" width="72" height="22.0" fill="#285a45"/>
<rect x="814" y="546.15" width="4" height="22.0" fill="#5c2a62"/>
<rect x="818" y="546.15" width="5" height="22.0" fill="#2b4a7a"/>
<rect x="823" y="546.15" width="3" height="22.0" fill="#5a2a48"/>
<rect x="826" y="546.15" width="3" height="22.0" fill="#575a2e"/>
<rect x="829" y="546.15" width="12" height="22.0" fill="#285a45"/>
<rect x="841" y="546.15" width="5" height="22.0" fill="#5a5030"/>
<rect x="160.0" y="576.56" width="8.0" height="22.0" fill="#2a5868"/>
<rect x="168" y="576.56" width="10" height="22.0" fill="#322a74"/>
<rect x="178" y="576.56" width="14" height="22.0" fill="#575a2e"/>
<rect x="192" y="576.56" width="23" height="22.0" fill="#594530"/>
<rect x="215" y="576.56" width="9" height="22.0" fill="#2e6a3c"/>
<rect x="224" y="576.56" width="6" height="22.0" fill="#565a6a"/>
<rect x="230" y="576.56" width="10" height="22.0" fill="#2e6a3c"/>
<rect x="240" y="576.56" width="11" height="22.0" fill="#322a74"/>
<rect x="251" y="576.56" width="5" height="22.0" fill="#7a3530"/>
<rect x="256" y="576.56" width="10" height="22.0" fill="#2e6a3c"/>
<rect x="266" y="576.56" width="88" height="22.0" fill="#322a74"/>
<rect x="354" y="576.56" width="4" height="22.0" fill="#565a6a"/>
<rect x="358" y="576.56" width="4" height="22.0" fill="#5a2a48"/>
<rect x="362" y="576.56" width="6" height="22.0" fill="#575a2e"/>
<rect x="368" y="576.56" width="6" height="22.0" fill="#2b6a5c"/>
<rect x="374" y="576.56" width="36" height="22.0" fill="#285a45"/>
<rect x="410" y="576.56" width="10" height="22.0" fill="#5a2a48"/>
<rect x="420" y="576.56" width="22" height="22.0" fill="#42296e"/>
<rect x="442" y="576.56" width="7" height="22.0" fill="#2b4a7a"/>
<rect x="456" y="576.56" width="14" height="22.0" fill="#2b6a5c"/>
<rect x="470" y="576.56" width="39" height="22.0" fill="#5e3029"/>
<rect x="509" y="576.56" width="11" height="22.0" fill="#5c2a62"/>
<rect x="520" y="576.56" width="11" height="22.0" fill="#2a5868"/>
<rect x="531" y="576.56" width="27" height="22.0" fill="#575a2e"/>
<rect x="558" y="576.56" width="25" height="22.0" fill="#322a74"/>
<rect x="583" y="576.56" width="8" height="22.0" fill="#5a5030"/>
<rect x="591" y="576.56" width="198" height="22.0" fill="#285a45"/>
<rect x="789" y="576.56" width="2" height="22.0" fill="#3b7657"/>
<rect x="791" y="576.56" width="21" height="22.0" fill="#285a45"/>
<rect x="812" y="576.56" width="3" height="22.0" fill="#5a2a48"/>
<rect x="815" y="576.56" width="3" height="22.0" fill="#575a2e"/>
<rect x="818" y="576.56" width="4" height="22.0" fill="#565a6a"/>
<rect x="822" y="576.56" width="8" height="22.0" fill="#5c2a62"/>
<rect x="830" y="576.56" width="6" height="22.0" fill="#2a5868"/>
<rect x="836" y="576.56" width="3" height="22.0" fill="#5c2a62"/>
<rect x="839" y="576.56" width="4" height="22.0" fill="#3b7657"/>
<rect x="843" y="576.56" width="3" height="22.0" fill="#5c2a62"/>
<rect x="160.0" y="606.97" width="9.0" height="22.0" fill="#2a5868"/>
<rect x="169" y="606.97" width="8" height="22.0" fill="#322a74"/>
<rect x="177" y="606.97" width="11" height="22.0" fill="#575a2e"/>
<rect x="188" y="606.97" width="32" height="22.0" fill="#594530"/>
<rect x="220" y="606.97" width="5" height="22.0" fill="#2e6a3c"/>
<rect x="225" y="606.97" width="4" height="22.0" fill="#2b4a7a"/>
<rect x="229" y="606.97" width="5" height="22.0" fill="#428a5e"/>
<rect x="234" y="606.97" width="12" height="22.0" fill="#2e6a3c"/>
<rect x="246" y="606.97" width="9" height="22.0" fill="#322a74"/>
<rect x="255" y="606.97" width="7" height="22.0" fill="#7a3530"/>
<rect x="262" y="606.97" width="6" height="22.0" fill="#428a5e"/>
<rect x="268" y="606.97" width="3" height="22.0" fill="#5a2a48"/>
<rect x="271" y="606.97" width="67" height="22.0" fill="#322a74"/>
<rect x="338" y="606.97" width="3" height="22.0" fill="#565a6a"/>
<rect x="341" y="606.97" width="5" height="22.0" fill="#5a2a48"/>
<rect x="346" y="606.97" width="4" height="22.0" fill="#575a2e"/>
<rect x="350" y="606.97" width="8" height="22.0" fill="#2b6a5c"/>
<rect x="358" y="606.97" width="34" height="22.0" fill="#285a45"/>
<rect x="392" y="606.97" width="5" height="22.0" fill="#5c2a62"/>
<rect x="397" y="606.97" width="16" height="22.0" fill="#42296e"/>
<rect x="413" y="606.97" width="11" height="22.0" fill="#2a5868"/>
<rect x="424" y="606.97" width="5" height="22.0" fill="#2a5868"/>
<rect x="436" y="606.97" width="6" height="22.0" fill="#2b6a5c"/>
<rect x="442" y="606.97" width="34" height="22.0" fill="#5e3029"/>
<rect x="476" y="606.97" width="18" height="22.0" fill="#5c2a62"/>
<rect x="494" y="606.97" width="27" height="22.0" fill="#575a2e"/>
<rect x="521" y="606.97" width="28" height="22.0" fill="#322a74"/>
<rect x="549" y="606.97" width="11" height="22.0" fill="#5a5030"/>
<rect x="560" y="606.97" width="229" height="22.0" fill="#285a45"/>
<rect x="789" y="606.97" width="3" height="22.0" fill="#3b7657"/>
<rect x="792" y="606.97" width="30" height="22.0" fill="#285a45"/>
<rect x="822" y="606.97" width="4" height="22.0" fill="#5c2a62"/>
<rect x="826" y="606.97" width="3" height="22.0" fill="#575a2e"/>
<rect x="829" y="606.97" width="5" height="22.0" fill="#2a5868"/>
<rect x="834" y="606.97" width="6" height="22.0" fill="#5c2a62"/>
<rect x="840" y="606.97" width="6" height="22.0" fill="#6c7c68"/>
<rect x="160.0" y="637.38" width="2.0" height="22.0" fill="#5a2a48"/>
<rect x="162" y="637.38" width="7" height="22.0" fill="#2a5868"/>
<rect x="169" y="637.38" width="9" height="22.0" fill="#322a74"/>
<rect x="178" y="637.38" width="8" height="22.0" fill="#575a2e"/>
<rect x="186" y="637.38" width="33" height="22.0" fill="#594530"/>
<rect x="219" y="637.38" width="5" height="22.0" fill="#2e6a3c"/>
<rect x="224" y="637.38" width="8" height="22.0" fill="#565a6a"/>
<rect x="232" y="637.38" width="11" height="22.0" fill="#2e6a3c"/>
<rect x="243" y="637.38" width="16" height="22.0" fill="#322a74"/>
<rect x="259" y="637.38" width="5" height="22.0" fill="#7a3530"/>
<rect x="264" y="637.38" width="8" height="22.0" fill="#2e6a3c"/>
<rect x="272" y="637.38" width="5" height="22.0" fill="#5a2a48"/>
<rect x="277" y="637.38" width="58" height="22.0" fill="#322a74"/>
<rect x="335" y="637.38" width="5" height="22.0" fill="#3d6a36"/>
<rect x="340" y="637.38" width="18" height="22.0" fill="#5a2a48"/>
<rect x="358" y="637.38" width="10" height="22.0" fill="#2b6a5c"/>
<rect x="368" y="637.38" width="29" height="22.0" fill="#285a45"/>
<rect x="397" y="637.38" width="11" height="22.0" fill="#5a2a48"/>
<rect x="408" y="637.38" width="3" height="22.0" fill="#5c2a62"/>
<rect x="411" y="637.38" width="11" height="22.0" fill="#42296e"/>
<rect x="422" y="637.38" width="6" height="22.0" fill="#565a6a"/>
<rect x="428" y="637.38" width="8" height="22.0" fill="#2a5868"/>
<rect x="449" y="637.38" width="10" height="22.0" fill="#2b6a5c"/>
<rect x="459" y="637.38" width="33" height="22.0" fill="#5e3029"/>
<rect x="492" y="637.38" width="13" height="22.0" fill="#5c2a62"/>
<rect x="505" y="637.38" width="11" height="22.0" fill="#2a5868"/>
<rect x="516" y="637.38" width="25" height="22.0" fill="#575a2e"/>
<rect x="541" y="637.38" width="20" height="22.0" fill="#322a74"/>
<rect x="561" y="637.38" width="21" height="22.0" fill="#5a5030"/>
<rect x="582" y="637.38" width="205" height="22.0" fill="#285a45"/>
<rect x="787" y="637.38" width="3" height="22.0" fill="#3b7657"/>
<rect x="790" y="637.38" width="24" height="22.0" fill="#285a45"/>
<rect x="814" y="637.38" width="5" height="22.0" fill="#5c2a62"/>
<rect x="819" y="637.38" width="3" height="22.0" fill="#575a2e"/>
<rect x="822" y="637.38" width="6" height="22.0" fill="#3d6a36"/>
<rect x="828" y="637.38" width="6" height="22.0" fill="#2a5868"/>
<rect x="834" y="637.38" width="6" height="22.0" fill="#5c2a62"/>
<rect x="840" y="637.38" width="6" height="22.0" fill="#84848e"/>
<rect x="160.0" y="667.79" width="8.0" height="22.0" fill="#2a5868"/>
<rect x="168" y="667.79" width="11" height="22.0" fill="#322a74"/>
<rect x="179" y="667.79" width="14" height="22.0" fill="#575a2e"/>
<rect x="193" y="667.79" width="22" height="22.0" fill="#594530"/>
<rect x="215" y="667.79" width="3" height="22.0" fill="#565a6a"/>
<rect x="218" y="667.79" width="5" height="22.0" fill="#428a5e"/>
<rect x="223" y="667.79" width="7" height="22.0" fill="#2e6a3c"/>
<rect x="230" y="667.79" width="18" height="22.0" fill="#322a74"/>
<rect x="248" y="667.79" width="8" height="22.0" fill="#7a3530"/>
<rect x="256" y="667.79" width="45" height="22.0" fill="#322a74"/>
<rect x="301" y="667.79" width="11" height="22.0" fill="#2b6a5c"/>
<rect x="312" y="667.79" width="31" height="22.0" fill="#285a45"/>
<rect x="343" y="667.79" width="7" height="22.0" fill="#5a2a48"/>
<rect x="350" y="667.79" width="18" height="22.0" fill="#42296e"/>
<rect x="368" y="667.79" width="10" height="22.0" fill="#5a2a48"/>
<rect x="378" y="667.79" width="14" height="22.0" fill="#2a5868"/>
<rect x="401" y="667.79" width="13" height="22.0" fill="#2b6a5c"/>
<rect x="414" y="667.79" width="18" height="22.0" fill="#5e3029"/>
<rect x="432" y="667.79" width="14" height="22.0" fill="#5c2a62"/>
<rect x="446" y="667.79" width="16" height="22.0" fill="#2a5868"/>
<rect x="462" y="667.79" width="32" height="22.0" fill="#575a2e"/>
<rect x="494" y="667.79" width="20" height="22.0" fill="#322a74"/>
<rect x="514" y="667.79" width="7" height="22.0" fill="#2b6a5c"/>
<rect x="521" y="667.79" width="259" height="22.0" fill="#285a45"/>
<rect x="780" y="667.79" width="3" height="22.0" fill="#3b7657"/>
<rect x="783" y="667.79" width="49" height="22.0" fill="#285a45"/>
<rect x="832" y="667.79" width="3" height="22.0" fill="#5a2a48"/>
<rect x="835" y="667.79" width="5" height="22.0" fill="#2e6a3c"/>
<rect x="840" y="667.79" width="3" height="22.0" fill="#7a3530"/>
<rect x="843" y="667.79" width="3" height="22.0" fill="#3b7657"/>
<rect x="160.0" y="698.20" width="686.0" height="22.0" fill="#2e3166"/>
<rect x="160.0" y="728.61" width="686.0" height="22.0" fill="#285a45"/>
<rect x="413" y="89.40" width="8" height="23.2" fill="#17191e"/>
<rect x="501" y="119.81" width="61" height="23.2" fill="#17191e"/>
<rect x="417" y="150.22" width="15" height="23.2" fill="#17191e"/>
<rect x="465" y="180.63" width="21" height="23.2" fill="#17191e"/>
<rect x="449" y="211.04" width="16" height="23.2" fill="#17191e"/>
<rect x="467" y="241.45" width="28" height="23.2" fill="#17191e"/>
<rect x="456" y="271.86" width="9" height="23.2" fill="#17191e"/>
<rect x="473" y="302.27" width="26" height="23.2" fill="#17191e"/>
<rect x="421" y="332.68" width="9" height="23.2" fill="#17191e"/>
<rect x="431" y="363.09" width="8" height="23.2" fill="#17191e"/>
<rect x="412" y="393.50" width="25" height="23.2" fill="#17191e"/>
<rect x="417" y="423.91" width="13" height="23.2" fill="#17191e"/>
<rect x="473" y="454.32" width="22" height="23.2" fill="#17191e"/>
<rect x="434" y="484.73" width="21" height="23.2" fill="#17191e"/>
<rect x="413" y="515.14" width="12" height="23.2" fill="#17191e"/>
<rect x="427" y="545.55" width="22" height="23.2" fill="#17191e"/>
<rect x="448" y="575.96" width="9" height="23.2" fill="#17191e"/>
<rect x="428" y="606.37" width="9" height="23.2" fill="#17191e"/>
<rect x="435" y="636.78" width="15" height="23.2" fill="#17191e"/>
<rect x="391" y="667.19" width="11" height="23.2" fill="#17191e"/>
<rect x="414" y="90.00" width="6" height="22.0" fill="#e8e00e"/>
<rect x="502" y="120.41" width="59" height="22.0" fill="#e8e00e"/>
<rect x="418" y="150.82" width="13" height="22.0" fill="#e8e00e"/>
<rect x="466" y="181.23" width="19" height="22.0" fill="#e8e00e"/>
<rect x="450" y="211.64" width="14" height="22.0" fill="#e8e00e"/>
<rect x="468" y="242.05" width="26" height="22.0" fill="#e8e00e"/>
<rect x="457" y="272.46" width="7" height="22.0" fill="#e8e00e"/>
<rect x="474" y="302.87" width="24" height="22.0" fill="#e8e00e"/>
<rect x="422" y="333.28" width="7" height="22.0" fill="#e8e00e"/>
<rect x="432" y="363.69" width="6" height="22.0" fill="#e8e00e"/>
<rect x="413" y="394.10" width="23" height="22.0" fill="#e8e00e"/>
<rect x="418" y="424.51" width="11" height="22.0" fill="#e8e00e"/>
<rect x="474" y="454.92" width="20" height="22.0" fill="#e8e00e"/>
<rect x="435" y="485.33" width="19" height="22.0" fill="#e8e00e"/>
<rect x="414" y="515.74" width="10" height="22.0" fill="#e8e00e"/>
<rect x="428" y="546.15" width="20" height="22.0" fill="#e8e00e"/>
<rect x="449" y="576.56" width="7" height="22.0" fill="#e8e00e"/>
<rect x="429" y="606.97" width="7" height="22.0" fill="#e8e00e"/>
<rect x="436" y="637.38" width="13" height="22.0" fill="#e8e00e"/>
<rect x="392" y="667.79" width="9" height="22.0" fill="#e8e00e"/>
</g></svg>
<div class="ylclip">
<div class="ylab" style="right:9px;top:13.0px">Cadmus</div>
<div class="ylab" style="right:9px;top:43.4px">Resourceful Lootbags</div>
<div class="ylab" style="right:9px;top:73.8px">Argonauts</div>
<div class="ylab" style="right:9px;top:104.2px">Momento</div>
<div class="ylab" style="right:9px;top:134.6px">CTM Refabricated</div>
<div class="ylab" style="right:9px;top:165.1px">Lookin' sharp</div>
<div class="ylab" style="right:9px;top:195.5px">Vitalize</div>
<div class="ylab" style="right:9px;top:225.9px">Botarium</div>
<div class="ylab" style="right:9px;top:256.3px">Lil' Wings</div>
<div class="ylab" style="right:9px;top:286.7px">Spirit</div>
<div class="ylab" style="right:9px;top:317.1px">Athena</div>
<div class="ylab" style="right:9px;top:347.5px">Tempad</div>
<div class="ylab" style="right:9px;top:377.9px">Ad Astra</div>
<div class="ylab" style="right:9px;top:408.3px">Heracles</div>
<div class="ylab" style="right:9px;top:438.7px">Chipped</div>
<div class="ylab" style="right:9px;top:469.1px">All of Fabric &#124; Orion</div>
<div class="ylab" style="right:9px;top:499.6px">Reaper</div>
<div class="ylab" style="right:9px;top:530.0px">Colorful Azaleas</div>
<div class="ylab" style="right:9px;top:560.4px">Handcrafted</div>
<div class="ylab" style="right:9px;top:590.8px">Prometheus</div>
<div class="ylab" style="right:9px;top:621.2px">Super Ores</div>
<div class="ylab" style="right:9px;top:651.6px">Heracross</div>
</div>
<div class="xlab" style="left:140.0px">0</div>
<div class="xlab" style="left:277.2px">20</div>
<div class="xlab" style="left:414.4px">40</div>
<div class="xlab" style="left:551.6px">60</div>
<div class="xlab" style="left:688.8px">80</div>
<div class="xlab" style="left:826.0px">100</div>
<div class="legend">
<div class="li" style="top:-11.0px"><div class="sw" style="background:#e0306a"></div><div class="lt">Chile</div></div>
<div class="li" style="top:12.7px"><div class="sw" style="background:#f2f020"></div><div class="lt">Romania</div></div>
<div class="li" style="top:36.4px"><div class="sw" style="background:#3a80f0"></div><div class="lt">Bolivia, Plurinational State Of</div></div>
<div class="li" style="top:60.1px"><div class="sw" style="background:#40e050"></div><div class="lt">Norway</div></div>
<div class="li" style="top:83.8px"><div class="sw" style="background:#40c8e0"></div><div class="lt">Portugal</div></div>
<div class="li" style="top:107.5px"><div class="sw" style="background:#40d090"></div><div class="lt">Germany</div></div>
<div class="li" style="top:131.2px"><div class="sw" style="background:#e030c0"></div><div class="lt">Dominican Republic</div></div>
<div class="li" style="top:154.8px"><div class="sw" style="background:#d02020"></div><div class="lt">Peru</div></div>
<div class="li" style="top:178.5px"><div class="sw" style="background:#c020e0"></div><div class="lt">Moldova</div></div>
<div class="li" style="top:202.2px"><div class="sw" style="background:#8020d8"></div><div class="lt">Australia</div></div>
<div class="li" style="top:225.9px"><div class="sw" style="background:#d03020"></div><div class="lt">Iran, Islamic Republic Of</div></div>
<div class="li" style="top:249.6px"><div class="sw" style="background:#2060f0"></div><div class="lt">Hong Kong</div></div>
<div class="li" style="top:273.3px"><div class="sw" style="background:#30c040"></div><div class="lt">Saudi Arabia</div></div>
<div class="li" style="top:297.0px"><div class="sw" style="background:#d02090"></div><div class="lt">Czech Republic</div></div>
<div class="li" style="top:320.7px"><div class="sw" style="background:#30b0c8"></div><div class="lt">Korea, Republic Of</div></div>
<div class="li" style="top:344.4px"><div class="sw" style="background:#8a20e8"></div><div class="lt">Hungary</div></div>
<div class="li" style="top:368.1px"><div class="sw" style="background:#30c8e8"></div><div class="lt">Macao</div></div>
<div class="li" style="top:391.7px"><div class="sw" style="background:#e8e010"></div><div class="lt">China</div></div>
<div class="li" style="top:415.4px"><div class="sw" style="background:#30c0a0"></div><div class="lt">Japan</div></div>
<div class="li" style="top:439.1px"><div class="sw" style="background:#40e0d0"></div><div class="lt">Malaysia</div></div>
<div class="li" style="top:462.8px"><div class="sw" style="background:#f04010"></div><div class="lt">Brazil</div></div>
<div class="li" style="top:486.5px"><div class="sw" style="background:#40e820"></div><div class="lt">Croatia</div></div>
<div class="li" style="top:510.2px"><div class="sw" style="background:#4030f0"></div><div class="lt">Cyprus</div></div>
<div class="li" style="top:533.9px"><div class="sw" style="background:#3098f0"></div><div class="lt">Denmark</div></div>
<div class="li" style="top:557.6px"><div class="sw" style="background:#4050e0"></div><div class="lt">South Africa</div></div>
<div class="li" style="top:581.3px"><div class="sw" style="background:#f03080"></div><div class="lt">Guatemala</div></div>
<div class="li" style="top:605.0px"><div class="sw" style="background:#4020d0"></div><div class="lt">Serbia</div></div>
<div class="li" style="top:628.6px"><div class="sw" style="background:#c02090"></div><div class="lt">Taiwan</div></div>
<div class="li" style="top:652.3px"><div class="sw" style="background:#f03050"></div><div class="lt">Ireland</div></div>
<div class="li" style="top:676.0px"><div class="sw" style="background:#40e060"></div><div class="lt">United Arab Emirates</div></div>
<div class="li" style="top:699.7px"><div class="sw" style="background:#30a0e8"></div><div class="lt">Philippines</div></div>
</div>
<div class="sb"></div>
</body></html>
